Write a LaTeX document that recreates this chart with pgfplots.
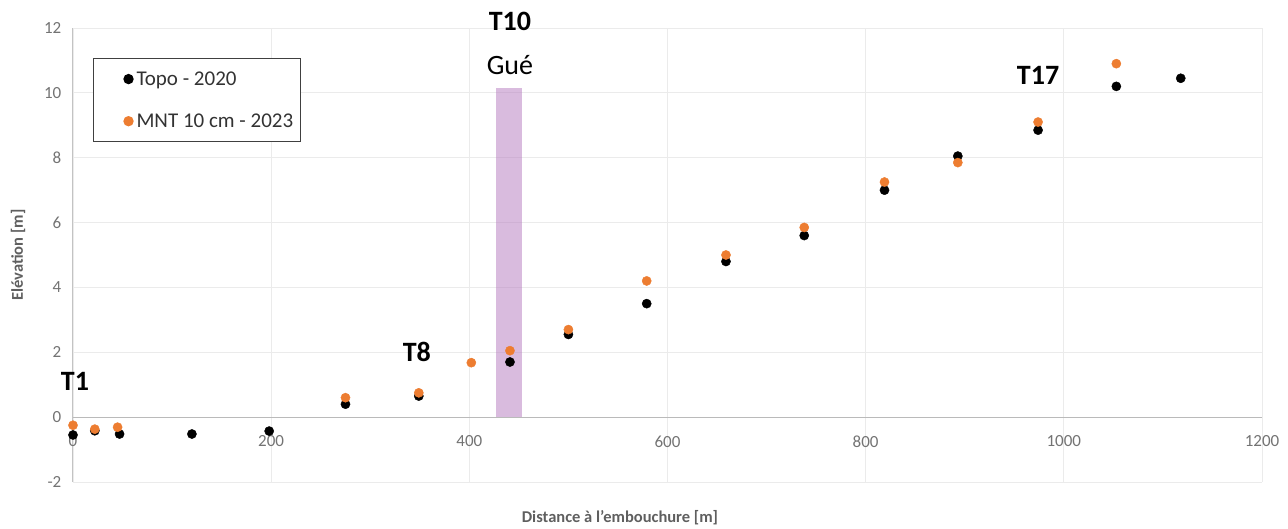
\documentclass[border=0pt]{standalone}
\usepackage{pgfplots}
\pgfplotsset{compat=1.18}
\usepackage{fontspec}
\setmainfont{Carlito}
\definecolor{ptorange}{RGB}{237,125,49}
\definecolor{gridc}{RGB}{235,235,235}
\definecolor{axc}{RGB}{195,195,195}
\definecolor{tickc}{RGB}{115,115,115}
\definecolor{labc}{RGB}{95,95,95}
\definecolor{gue}{RGB}{180,120,190}
\begin{document}
\begin{tikzpicture}
\useasboundingbox (0,0) rectangle (1288pt,528pt);
\begin{axis}[
  at={(73pt,46pt)}, anchor=south west,
  scale only axis, width=1189pt, height=454pt,
  xmin=0, xmax=1200, ymin=-2, ymax=12,
  xtick={0,200,...,1200}, ytick={-2,0,...,12},
  axis x line=middle, axis y line=left,
  hide obscured x ticks=false, hide obscured y ticks=false,
  axis line style={-, draw=axc, line width=1pt},
  x axis line style={draw=axc!115, line width=1.2pt},
  grid=major, major grid style={draw=gridc, line width=0.9pt},
  tick style={draw=none},
  tick label style={font=\fontsize{17}{20}\selectfont, text=tickc},
  xticklabel style={yshift=-13pt},
  yticklabel style={xshift=-6pt},
  /pgf/number format/assume math mode=true,
  /pgf/number format/1000 sep={},
  xlabel={Distance à l'embouchure [m]},
  label style={font=\bfseries\fontsize{16.5}{19}\selectfont, text=labc},
  xlabel style={at={(axis description cs:0.46,0)}, anchor=center, yshift=-36pt},
  clip=false,
  legend style={at={(axis description cs:0.0168,0.934)}, anchor=north west,
    draw=black!75, line width=1.1pt, inner xsep=5pt, inner ysep=11pt,
    font=\fontsize{21}{25}\selectfont, text=black!80, row sep=23pt,
    legend cell align=left},
  legend image code/.code={\path[draw=none,fill=none] (0pt,-5pt) rectangle (36pt,5pt);
    \draw[mark repeat=2,mark phase=2,#1] plot coordinates {(0pt,0pt) (30pt,0pt) (36pt,0pt)};},
]
\addplot[only marks, mark=*, mark size=4.6pt, black] coordinates {
(0,-0.55) (22,-0.42) (47,-0.52) (120,-0.52) (198,-0.43) (275,0.4) (349,0.65)
(441,1.7) (500,2.55) (579,3.5) (659,4.8) (738,5.6) (819,7.0) (893,8.05)
(974,8.85) (1053,10.2) (1118,10.45)
};
\addlegendentry{Topo - 2020}
\addplot[only marks, mark=*, mark size=4.6pt, ptorange, mark options={draw=ptorange, fill=ptorange}] coordinates {
(0,-0.25) (22,-0.37) (45,-0.31) (275,0.6) (349,0.75) (402,1.68) (441,2.05)
(500,2.7) (579,4.2) (659,5.0) (738,5.85) (819,7.25) (893,7.85) (974,9.1) (1053,10.9)
};
\addlegendentry{MNT 10 cm - 2023}
\addplot[draw=none, fill=gue, fill opacity=0.5, forget plot] coordinates {
(427,0) (453,0) (453,10.15) (427,10.15)
} -- cycle;
\node[font=\bfseries\fontsize{16.5}{19}\selectfont, text=labc, rotate=90, anchor=center] at ([xshift=-55pt]axis description cs:0,0.5) {Elévation [m]};
\node[font=\bfseries\fontsize{28}{32}\selectfont] at (axis cs:2,1.1) {T1};
\node[font=\bfseries\fontsize{28}{32}\selectfont] at (axis cs:347,2.0) {T8};
\node[font=\bfseries\fontsize{28}{32}\selectfont] at (axis cs:441,12.19) {T10};
\node[font=\fontsize{28}{32}\selectfont] at (axis cs:441,10.86) {Gué};
\node[font=\bfseries\fontsize{28}{32}\selectfont] at (axis cs:974,10.55) {T17};
\end{axis}
\end{tikzpicture}
\end{document}
